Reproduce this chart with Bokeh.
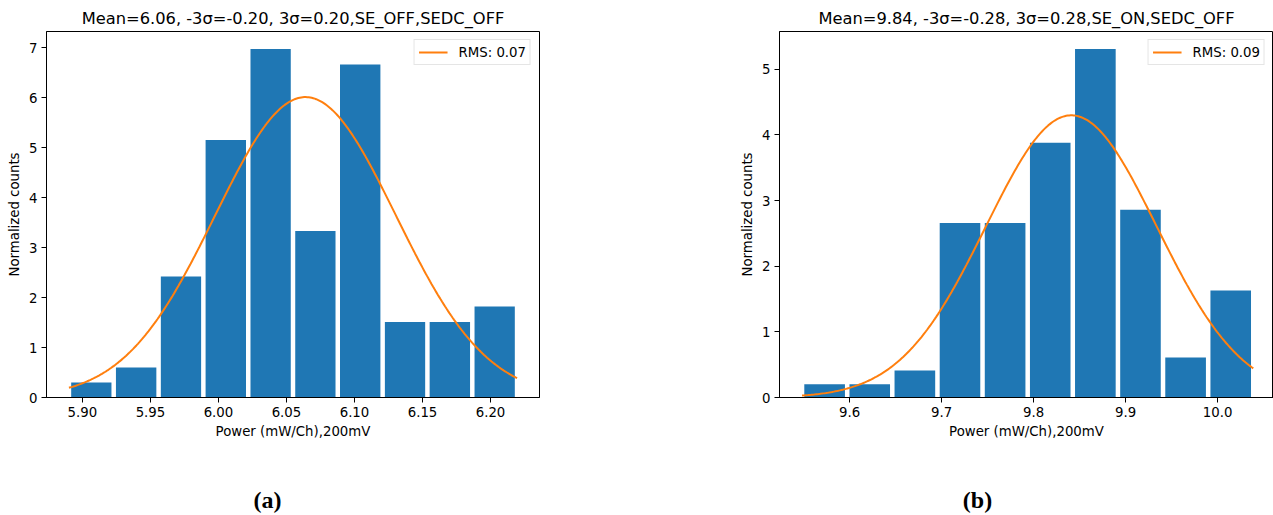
import numpy as np
from bokeh.plotting import figure
from bokeh.layouts import column, row
from bokeh.models import (Legend, LegendItem, Range1d, FixedTicker,
                          NumeralTickFormatter, Label)
from bokeh.embed import file_html
from bokeh.resources import INLINE

# ---------------- data: panel (a) ----------------
edges_a = [5.8901, 5.9230, 5.9560, 5.9889, 6.0219, 6.0548,
           6.0877, 6.1207, 6.1536, 6.1866, 6.2195]
heights_a = [0.30, 0.60, 2.42, 5.15, 6.97, 3.33, 6.66, 1.51, 1.51, 1.82]
mean_a = 6.064
sigma_a = 0.0664
title_a = "Mean=6.06, -3σ=-0.20, 3σ=0.20,SE_OFF,SEDC_OFF"
legend_a = "RMS: 0.07"
xticks_a = [5.90, 5.95, 6.00, 6.05, 6.10, 6.15, 6.20]
yticks_a = [0, 1, 2, 3, 4, 5, 6, 7]
caption_a = "(a)"

# ---------------- data: panel (b) ----------------
edges_b = [9.5483, 9.5974, 9.6464, 9.6955, 9.7445, 9.7936,
           9.8426, 9.8917, 9.9407, 9.9898, 10.0388]
heights_b = [0.20, 0.20, 0.41, 2.66, 2.66, 3.88, 5.31, 2.86, 0.61, 1.63]
mean_b = 9.841
sigma_b = 0.0928
title_b = "Mean=9.84, -3σ=-0.28, 3σ=0.28,SE_ON,SEDC_OFF"
legend_b = "RMS: 0.09"
xticks_b = [9.6, 9.7, 9.8, 9.9, 10.0]
yticks_b = [0, 1, 2, 3, 4, 5]
caption_b = "(b)"

x_label = "Power (mW/Ch),200mV"
y_label = "Normalized counts"

BAR = "#1f77b4"
LINE = "#ff7f0e"
FONT = "DejaVu Sans"


def panel(edges, heights, mu, sigma, title, leg, xticks, yticks, xfmt,
          xr, yr, width, height, bl, br, bt, bb, title_offset=0):
    p = figure(width=width, height=height, x_range=Range1d(*xr),
               y_range=Range1d(*yr), output_backend="svg",
               toolbar_location=None, min_border_left=bl,
               min_border_right=br, min_border_top=bt, min_border_bottom=bb)
    e = np.array(edges)
    centers = (e[:-1] + e[1:]) / 2
    widths = 0.9 * (e[1:] - e[:-1])
    p.vbar(x=centers, width=widths, top=heights, bottom=0,
           fill_color=BAR, line_color=None)
    xs = np.linspace(e[0], e[-1], 300)
    ys = np.exp(-0.5 * ((xs - mu) / sigma) ** 2) / (sigma * np.sqrt(2 * np.pi))
    ln = p.line(xs, ys, line_color=LINE, line_width=2)

    legend = Legend(items=[LegendItem(label=leg, renderers=[ln])],
                    location="top_right", margin=8, padding=4,
                    glyph_width=29, glyph_height=16, label_height=16,
                    label_standoff=11, label_text_font=FONT,
                    label_text_font_size="13.3px", label_text_color="black",
                    border_line_color="#cccccc", border_line_width=1,
                    background_fill_color="white", background_fill_alpha=0.8)
    p.add_layout(legend)

    p.title.text = title
    p.title.align = "center"
    p.title.text_font = FONT
    p.title.text_font_size = "16.3px"
    p.title.text_font_style = "normal"
    p.title.text_color = "black"
    p.title.standoff = 8
    p.title.offset = title_offset

    for ax in (p.xaxis[0], p.yaxis[0]):
        ax.major_tick_in = 0
        ax.major_tick_out = 5
        ax.minor_tick_line_color = None
        ax.major_tick_line_color = "black"
        ax.axis_line_color = "black"
        ax.major_label_text_font = FONT
        ax.major_label_text_font_size = "13.3px"
        ax.major_label_text_color = "black"
        ax.axis_label_text_font = FONT
        ax.axis_label_text_font_size = "13.3px"
        ax.axis_label_text_font_style = "normal"
        ax.axis_label_text_color = "black"
        ax.major_label_standoff = 4
    p.xaxis.ticker = FixedTicker(ticks=xticks)
    p.xaxis.formatter = NumeralTickFormatter(format=xfmt)
    p.yaxis.ticker = FixedTicker(ticks=yticks)
    p.xaxis.axis_label = x_label
    p.yaxis.axis_label = y_label
    p.xaxis.axis_label_standoff = 4
    p.yaxis.axis_label_standoff = 4
    p.xgrid.visible = False
    p.ygrid.visible = False
    p.outline_line_color = "black"
    p.outline_line_width = 1
    return p


pa = panel(edges_a, heights_a, mean_a, sigma_a, title_a, legend_a,
           xticks_a, yticks_a, "0.00", (5.8736, 6.2360), (0, 7.32),
           width=660, height=455, bl=46, br=121, bt=31, bb=58)
pb = panel(edges_b, heights_b, mean_b, sigma_b, title_b, legend_b,
           xticks_b, yticks_b, "0.0", (9.5238, 10.0608), (0, 5.576),
           width=613, height=455, bl=119, br=0, bt=31, bb=56)


def caption(text, width, cx):
    c = figure(width=width, height=60, x_range=Range1d(0, width),
               y_range=Range1d(0, 60), output_backend="svg",
               toolbar_location=None, min_border=0,
               x_axis_location=None, y_axis_location=None)
    c.grid.visible = False
    c.outline_line_color = None
    c.add_layout(Label(x=cx, y=16, x_units="screen", y_units="screen",
                       text=text, text_align="center", text_baseline="middle",
                       text_font="Liberation Serif", text_font_style="bold",
                       text_font_size="24px", text_color="black"))
    return c


ca = caption(caption_a, 660, 267)
cb = caption(caption_b, 613, 317)

layout = column(row(pa, pb), row(ca, cb))
open("out.html", "w").write(file_html(layout, INLINE))
